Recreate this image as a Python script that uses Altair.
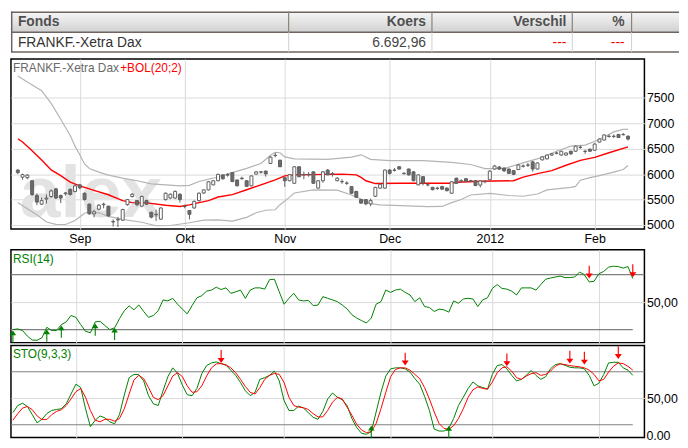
import altair as alt
import pandas as pd

# ---------------- data ----------------
month_idx = [13, 35, 56, 78, 99, 121]
month_lbl = ["Sep", "Okt", "Nov", "Dec", "2012", "Feb"]
price_ticks = [5000, 5500, 6000, 6500, 7000, 7500]

opens = [6080, 5940, 5930, 5870, 5580, 5410, 5510, 5560, 5710, 5580,
         5615, 5700, 5660, 5790, 5625, 5410, 5220, 5310, 5400, 5370,
         5060, 5100, 5095, 5400, 5560, 5480, 5370, 5480, 5250, 5200,
         5115, 5500, 5530, 5530, 5605, 5365, 5285, 5335, 5480, 5630,
         5690, 5790, 5870, 5985, 5980, 6030, 5885, 5910, 5870, 5770,
         6000, 6040, 6060, 6210, 6365, 6275, 5930, 5870, 5820, 6145,
         5985, 5985, 6045, 5725, 5870, 6080, 6000, 5870, 5850, 5820,
         5755, 5660, 5500, 5500, 5415, 5565, 5725, 5725, 6080, 6075,
         6145, 6010, 6100, 6045, 5790, 5950, 5790, 5740, 5720, 5755,
         5725, 5625, 5920, 5865, 5910, 5865, 5870, 5785, 5850, 5890,
         6100, 6140, 6120, 6100, 6070, 6090, 6155, 6175, 6240, 6100,
         6280, 6300, 6375, 6410, 6375, 6375, 6450, 6450, 6525, 6445,
         6490, 6470, 6630, 6670, 6740, 6740, 6780, 6775, 6745]
highs = [6095, 6010, 6000, 5880, 5620, 5540, 5600, 5700, 5730, 5600,
         5650, 5720, 5800, 5810, 5640, 5420, 5300, 5410, 5440, 5380,
         5110, 5160, 5320, 5510, 5630, 5490, 5580, 5500, 5260, 5300,
         5345, 5640, 5620, 5680, 5620, 5400, 5290, 5480, 5640, 5700,
         5860, 5880, 6010, 5990, 6020, 6040, 5890, 5950, 5880, 5975,
         6060, 6060, 6070, 6350, 6420, 6280, 5940, 6000, 6150, 6150,
         6050, 6040, 6050, 5880, 6060, 6100, 6040, 5940, 5900, 5860,
         5760, 5670, 5510, 5510, 5520, 5750, 5810, 6090, 6100, 6120,
         6160, 6040, 6110, 6060, 5995, 5960, 5830, 5750, 5750, 5770,
         5740, 5860, 5930, 5900, 5920, 5890, 5880, 5880, 5880, 6075,
         6180, 6160, 6130, 6110, 6080, 6190, 6190, 6220, 6260, 6230,
         6350, 6385, 6410, 6440, 6460, 6430, 6460, 6560, 6560, 6480,
         6500, 6610, 6700, 6780, 6780, 6780, 6790, 6810, 6760]
lows = [6000, 5890, 5900, 5570, 5390, 5390, 5420, 5530, 5510, 5430,
        5580, 5580, 5640, 5700, 5480, 5200, 5150, 5290, 5330, 5160,
        4970, 4960, 5080, 5380, 5540, 5370, 5350, 5390, 5130, 5080,
        5100, 5480, 5510, 5510, 5440, 5330, 5110, 5320, 5460, 5610,
        5680, 5780, 5860, 5890, 5950, 5840, 5760, 5890, 5750, 5760,
        5990, 6010, 5950, 6200, 6330, 6140, 5750, 5860, 5810, 5940,
        5900, 5950, 5810, 5715, 5830, 5980, 5950, 5860, 5810, 5790,
        5610, 5530, 5420, 5390, 5370, 5550, 5710, 5710, 5990, 6050,
        6090, 5990, 5970, 5860, 5780, 5780, 5760, 5680, 5690, 5690,
        5660, 5610, 5810, 5830, 5850, 5840, 5770, 5740, 5820, 5880,
        6090, 6080, 6040, 6000, 5980, 6080, 6130, 6140, 6050, 6090,
        6270, 6290, 6360, 6390, 6360, 6365, 6380, 6440, 6500, 6400,
        6440, 6460, 6620, 6660, 6720, 6710, 6710, 6760, 6660]
closes = [6030, 5990, 5980, 5600, 5450, 5480, 5530, 5670, 5530, 5530,
          5630, 5600, 5770, 5730, 5500, 5220, 5260, 5390, 5410, 5180,
          5070, 5110, 5305, 5500, 5605, 5400, 5560, 5410, 5155, 5210,
          5335, 5625, 5605, 5660, 5500, 5370, 5210, 5465, 5625, 5690,
          5850, 5870, 5995, 5910, 5990, 5855, 5770, 5920, 5760, 5965,
          6045, 6045, 6005, 6335, 6370, 6145, 5870, 5990, 6145, 5950,
          5990, 5995, 5820, 5870, 6045, 5985, 6010, 5920, 5855, 5825,
          5625, 5545, 5430, 5415, 5480, 5740, 5800, 6080, 6015, 6080,
          6100, 6015, 5985, 5870, 5985, 5820, 5790, 5695, 5725, 5705,
          5675, 5850, 5820, 5870, 5860, 5870, 5775, 5865, 5860, 6060,
          6160, 6100, 6065, 6015, 5995, 6180, 6160, 6180, 6100, 6220,
          6340, 6375, 6400, 6415, 6450, 6415, 6400, 6550, 6530, 6450,
          6450, 6590, 6690, 6770, 6745, 6745, 6720, 6780, 6690]

bol_up_i = [0, 2, 5, 7, 9, 11, 12, 13, 14, 15, 17, 19, 22, 25, 28, 31, 34, 36, 38, 41,
            45, 48, 51, 53, 54, 55, 56, 58, 65, 70, 72, 74, 78, 85, 91, 95, 98, 102, 106, 110,
            113, 116, 119, 122, 125, 127, 128]
bol_up_v = [7930, 7810, 7640, 7390, 7080, 6760, 6550, 6380, 6200, 6110, 6040, 5980, 5920, 5870, 5810, 5790, 5770, 5780, 5855, 5920,
            6030, 6113, 6210, 6372, 6430, 6420, 6340, 6300, 6290, 6335, 6380, 6290, 6265, 6265, 6230, 6190, 6110, 6110, 6220, 6330,
            6450, 6550, 6570, 6680, 6830, 6880, 6880]
bol_mid_i = [0, 1, 3, 5, 7, 9, 11, 13, 16, 19, 22, 24, 27, 31, 34, 36, 38, 40, 42, 45,
             48, 51, 54, 56, 58, 68, 71, 72, 73, 75, 80, 91, 92, 97, 104, 106, 109, 112, 115, 118,
             121, 124, 128]
bol_mid_v = [6696, 6631, 6460, 6276, 6082, 5970, 5845, 5770, 5680, 5595, 5480, 5440, 5434, 5388, 5365, 5395, 5440, 5480, 5550, 5596,
             5693, 5790, 5887, 5965, 5985, 6000, 5985, 5935, 5870, 5815, 5820, 5820, 5840, 5860, 5870, 5940, 6010, 6070, 6175, 6270,
             6330, 6420, 6535]
bol_lo_i = [0, 2, 4, 6, 8, 10, 12, 14, 15, 17, 19, 22, 26, 29, 32, 36, 39, 42, 45, 48,
            50, 52, 54, 55, 56, 58, 62, 67, 70, 72, 74, 76, 86, 89, 91, 93, 95, 99, 103, 106,
            109, 111, 116, 117, 118, 120, 122, 125, 127, 128]
bol_lo_v = [5440, 5320, 5200, 5060, 5014, 5010, 5090, 5230, 5260, 5240, 5170, 5110, 5055, 4985, 4990, 5045, 5097, 5100, 5075, 5150,
            5240, 5290, 5300, 5400, 5470, 5630, 5690, 5685, 5590, 5510, 5420, 5395, 5360, 5365, 5440, 5500, 5590, 5620, 5580, 5565,
            5610, 5690, 5740, 5760, 5880, 5930, 5970, 6040, 6090, 6170]

rsi = [30.0, 30.5, 29.3, 25.2, 22.4, 22.2, 24.1, 31.7, 29.3, 29.3,
       33.6, 35.6, 40.3, 38.9, 33.6, 28.8, 27.7, 35.6, 36.0, 32.9,
       30.0, 31.3, 37.9, 43.7, 47.3, 44.4, 48.0, 43.2, 38.9, 40.3,
       43.7, 51.6, 50.9, 52.8, 48.5, 44.9, 41.5, 47.5, 53.2, 54.7,
       58.0, 58.8, 60.9, 59.2, 60.4, 56.4, 57.5, 58.8, 52.8, 58.8,
       60.4, 60.4, 59.5, 66.4, 66.7, 57.5, 48.5, 52.8, 56.4, 51.6,
       50.9, 51.3, 47.5, 47.9, 54.0, 52.8, 51.6, 50.4, 47.9, 45.1,
       40.8, 38.4, 36.5, 34.8, 38.4, 48.5, 50.4, 58.8, 57.1, 58.8,
       59.5, 57.1, 55.2, 50.4, 53.2, 46.8, 46.1, 43.2, 44.9, 44.4,
       42.7, 50.9, 49.2, 52.3, 52.8, 52.3, 46.8, 51.6, 53.2, 60.0,
       62.8, 60.0, 59.5, 58.0, 55.2, 60.4, 60.4, 60.4, 58.8, 62.8,
       66.7, 67.6, 68.3, 69.0, 67.9, 67.9, 68.3, 71.9, 70.0, 64.7,
       65.2, 70.7, 72.4, 75.5, 76.2, 75.9, 74.8, 75.9, 67.2]

sto_k = [33.7, 41.8, 44.4, 40.7, 31.4, 22.2, 26.2, 32.6, 36.2, 37.3,
         38.1, 43.7, 54.8, 65.9, 62.2, 38.1, 17.8, 25.1, 30.0, 27.8,
         23.3, 21.1, 31.4, 53.7, 73.3, 77.0, 76.7, 69.6, 52.9, 43.7,
         41.8, 58.4, 74.4, 84.4, 78.1, 64.8, 54.0, 52.9, 61.1, 77.8,
         87.0, 90.0, 91.1, 89.2, 87.3, 81.8, 75.9, 67.8, 58.4, 52.9,
         56.7, 71.4, 73.3, 75.9, 80.7, 69.6, 47.3, 36.2, 36.2, 41.1,
         38.9, 33.7, 28.4, 26.2, 35.1, 49.2, 55.9, 51.1, 48.4, 41.8,
         27.0, 16.7, 10.3, 9.2, 12.2, 34.4, 56.7, 75.1, 83.3, 84.4,
         84.4, 83.3, 79.6, 72.2, 65.9, 52.2, 36.2, 15.1, 12.9, 12.9,
         15.9, 27.0, 41.8, 51.1, 61.1, 68.4, 64.0, 62.2, 60.3, 77.0,
         87.0, 88.1, 83.3, 75.9, 69.6, 71.4, 75.9, 81.4, 75.9, 71.4,
         74.4, 83.3, 88.1, 89.2, 87.3, 85.1, 84.4, 84.4, 83.3, 75.9,
         64.0, 67.0, 77.0, 90.0, 90.7, 90.7, 84.4, 81.8, 75.9]
sto_d = [25.1, 32.6, 38.9, 40.7, 37.0, 30.0, 25.9, 25.9, 31.4, 35.1,
         37.0, 41.8, 49.2, 57.4, 61.1, 51.1, 36.2, 25.1, 23.3, 26.2,
         26.2, 24.0, 27.0, 38.1, 54.8, 70.7, 75.9, 72.2, 62.2, 51.1,
         48.4, 52.9, 64.0, 75.1, 78.9, 74.4, 64.0, 56.7, 57.4, 64.0,
         75.1, 84.4, 88.9, 89.2, 87.8, 84.4, 78.9, 71.4, 63.3, 56.7,
         54.8, 62.2, 71.4, 75.9, 78.1, 77.0, 67.8, 51.1, 41.8, 40.0,
         39.3, 37.3, 32.6, 28.9, 28.9, 36.2, 45.6, 51.1, 49.2, 40.0,
         30.7, 20.4, 14.0, 11.1, 12.2, 21.4, 38.1, 56.7, 74.4, 82.6,
         84.4, 84.4, 81.8, 77.0, 72.2, 62.2, 49.2, 34.4, 21.4, 15.9,
         14.8, 18.9, 27.0, 38.1, 51.1, 59.6, 62.9, 61.1, 60.3, 68.4,
         78.9, 84.4, 85.6, 80.7, 73.3, 71.4, 75.1, 77.8, 78.9, 75.9,
         77.0, 80.7, 86.2, 88.9, 88.1, 87.0, 86.2, 85.6, 84.4, 81.8,
         77.0, 69.6, 71.4, 79.6, 86.2, 90.0, 89.2, 86.2, 81.8]

rsi_up_i = [0, 7, 10, 17, 21]
rsi_up_v = [29.3, 30.0, 32.9, 34.4, 31.3]
rsi_dn_i = [119, 128]
rsi_dn_v = [67.2, 68.2]
sto_up_i = [74, 90]
sto_up_v = [18.9, 18.5]
sto_dn_i = [43, 81, 102, 115, 118, 125]
sto_dn_v = [90.0, 87.0, 86.2, 89.2, 88.1, 94.4]

table_head = ["Fonds", "Koers", "Verschil", "%"]
table_row = ["FRANKF.-Xetra Dax", "6.692,96", "---", "---"]

# ---------------- layout / style ----------------
W = 641
XDOM = [-0.4, 130.4]
FONT = "Liberation Sans"
NARROW = "Liberation Sans Narrow, Arial Narrow, Liberation Sans"
GRID = "#dadada"
GREEN = "#008000"
RED = "#ff0000"
FRAME = alt.ViewBackground(stroke="#000000", strokeWidth=1.5)

n = len(closes)
idx = list(range(n))
candles = pd.DataFrame({"i": idx, "o": opens, "h": highs, "l": lows, "c": closes})

label_expr = "".join(f"datum.value == {v} ? '{l}' : " for v, l in zip(month_idx, month_lbl)) + "''"


def xenc(field, show_labels):
    return alt.X(field, type="quantitative",
                 scale=alt.Scale(domain=XDOM, nice=False, zero=False),
                 axis=alt.Axis(values=month_idx, labelExpr=label_expr, labels=show_labels,
                               grid=True, gridColor=GRID, gridWidth=1, ticks=False, domain=False,
                               labelPadding=4, labelFontSize=12.5, labelFont=FONT,
                               labelColor="#000", title=None))


def yenc(field, dom, values, lexpr=None, fmt=None):
    ax = dict(values=values, grid=True, gridColor=GRID, gridWidth=1, ticks=False, domain=False,
              orient="right", labelPadding=2, labelFontSize=12.5, labelFont=FONT,
              labelColor="#000", title=None)
    if lexpr is not None:
        ax["labelExpr"] = lexpr
    if fmt is not None:
        ax["format"] = fmt
    return alt.Y(field, type="quantitative",
                 scale=alt.Scale(domain=dom, nice=False, zero=False),
                 axis=alt.Axis(**ax))


def text_at(txt, x, y, color, size=12, weight="normal", align="left", font=FONT, baseline="alphabetic"):
    return alt.Chart(pd.DataFrame({"t": [txt]})).mark_text(
        align=align, baseline=baseline, fontSize=size, font=font,
        fontWeight=weight, color=color
    ).encode(x=alt.value(x), y=alt.value(y), text="t:N")


ARROW_DN = "M-0.09,-2L0.09,-2L0.09,-0.77L0.54,-0.77L0,0L-0.54,-0.77L-0.09,-0.77Z"
ARROW_UP = "M-0.09,2L0.09,2L0.09,0.77L0.54,0.77L0,0L-0.54,0.77L-0.09,0.77Z"

# ---------------- main price panel ----------------
MAIN_DOM = [4922, 8263]


def my(field):
    return yenc(field, MAIN_DOM, price_ticks, fmt="d")


watermark = text_at("alex", 9, 176, "#e3e3e3", size=74, weight="bold", font=NARROW,
                    baseline="bottom")

band_layers = []
for bi, bv, col, sw in [(bol_up_i, bol_up_v, "#b4b4b4", 1.2),
                        (bol_lo_i, bol_lo_v, "#b4b4b4", 1.2),
                        (bol_mid_i, bol_mid_v, RED, 1.4)]:
    band_layers.append(
        alt.Chart(pd.DataFrame({"i": bi, "v": bv})).mark_line(color=col, strokeWidth=sw)
        .encode(x=xenc("i", True), y=my("v"))
    )

wicks = alt.Chart(candles).mark_rule(color="#606060", strokeWidth=1).encode(
    x=xenc("i", True), y=my("l"), y2="h")
bodies = alt.Chart(candles).mark_bar(size=3, stroke="#606060", strokeWidth=1).encode(
    x=xenc("i", True), y=my("o"), y2="c",
    fill=alt.condition("datum.c >= datum.o", alt.value("#ffffff"), alt.value("#6b6b6b")))

main = alt.layer(
    watermark, *band_layers, wicks, bodies,
    text_at("FRANKF.-Xetra Dax", 2, 13, "#6a6a6a"),
    text_at("+BOL(20;2)", 110.5, 13, RED),
).properties(width=W, height=172, view=FRAME)

# ---------------- RSI panel ----------------
RSI_DOM = [20.5, 88.2]


def ry(field):
    return yenc(field, RSI_DOM, [50], lexpr="'50,00'")


rsi_df = pd.DataFrame({"i": idx, "v": rsi})
levels_rsi = pd.DataFrame({"v": [70, 30], "x1": [XDOM[0], XDOM[0]], "x2": [XDOM[1], n - 1]})
rsi_chart = alt.layer(
    alt.Chart(levels_rsi).mark_rule(color="#808080", strokeWidth=1.2).encode(
        x=xenc("x1", False), x2="x2", y=ry("v")),
    alt.Chart(rsi_df).mark_line(color=GREEN, strokeWidth=1).encode(x=xenc("i", False), y=ry("v")),
    alt.Chart(pd.DataFrame({"i": rsi_up_i, "v": rsi_up_v})).mark_point(
        shape=ARROW_UP, filled=True, size=150, opacity=1, color=GREEN).encode(
        x=xenc("i", False), y=ry("v")),
    alt.Chart(pd.DataFrame({"i": rsi_dn_i, "v": rsi_dn_v})).mark_point(
        shape=ARROW_DN, filled=True, size=169, opacity=1, color=RED).encode(
        x=xenc("i", False), y=ry("v")),
    text_at("RSI(14)", 2, 13.5, GREEN),
).properties(width=W, height=94, view=FRAME)

# ---------------- STO panel ----------------
STO_DOM = [5.6, 109.6]


def sy(field):
    return yenc(field, STO_DOM, [50], lexpr="'50,00'")


sto_df = pd.DataFrame({"i": idx, "k": sto_k, "d": sto_d})
levels_sto = pd.DataFrame({"v": [80, 20], "x1": [XDOM[0], XDOM[0]], "x2": [XDOM[1], n - 1]})
sto_chart = alt.layer(
    alt.Chart(levels_sto).mark_rule(color="#808080", strokeWidth=1.2).encode(
        x=xenc("x1", False), x2="x2", y=sy("v")),
    alt.Chart(sto_df).mark_line(color=GREEN, strokeWidth=1).encode(x=xenc("i", False), y=sy("k")),
    alt.Chart(sto_df).mark_line(color=RED, strokeWidth=1).encode(x=xenc("i", False), y=sy("d")),
    alt.Chart(pd.DataFrame({"i": sto_up_i, "v": sto_up_v})).mark_point(
        shape=ARROW_UP, filled=True, size=150, opacity=1, color=GREEN).encode(
        x=xenc("i", False), y=sy("v")),
    alt.Chart(pd.DataFrame({"i": sto_dn_i, "v": sto_dn_v})).mark_point(
        shape=ARROW_DN, filled=True, size=169, opacity=1, color=RED).encode(
        x=xenc("i", False), y=sy("v")),
    alt.Chart(pd.DataFrame({"v": [7.8], "t": ["0.00"]})).mark_text(
        align="left", baseline="middle", fontSize=12.5, font=FONT, color="#000").encode(
        x=alt.value(W + 2), y=sy("v"), text="t:N"),
    text_at("STO(9,3,3)", 2, 12.5, GREEN),
).properties(width=W, height=93, view=FRAME)

# ---------------- table ----------------
TW = 676
TH1, TH2 = 21, 41
col_edges = [281, 426, 568, 628]
DARK = "#6e6560"
hdr_grad = alt.Gradient(gradient="linear",
                        stops=[alt.GradientStop(color="#f6f6f6", offset=0),
                               alt.GradientStop(color="#e4e4e4", offset=0.5),
                               alt.GradientStop(color="#d0d0d0", offset=1)],
                        x1=0, x2=0, y1=0, y2=1)
one = pd.DataFrame({"a": [0]})
tbl_layers = [
    alt.Chart(one).mark_rect(fill=hdr_grad).encode(
        x=alt.value(0), x2=alt.value(TW), y=alt.value(0), y2=alt.value(TH1)),
]
for yy in [0.75, TH1, TH2]:
    tbl_layers.append(alt.Chart(one).mark_rule(color=DARK, strokeWidth=1.5).encode(
        x=alt.value(0), x2=alt.value(TW), y=alt.value(yy)))
tbl_layers.append(alt.Chart(one).mark_rule(color=DARK, strokeWidth=1.5).encode(
    x=alt.value(0.75), y=alt.value(0), y2=alt.value(TH2)))
for ce in col_edges:
    tbl_layers.append(alt.Chart(one).mark_rule(color="#8a807a", strokeWidth=1.2).encode(
        x=alt.value(ce), y=alt.value(0), y2=alt.value(TH1)))
    tbl_layers.append(alt.Chart(one).mark_rule(color="#cfcfcf", strokeWidth=1).encode(
        x=alt.value(ce), y=alt.value(TH1), y2=alt.value(TH2)))
hx = [7, 420, 562, 621]
halign = ["left", "right", "right", "right"]
rcolor = ["#333333", "#444444", RED, RED]
for k in range(4):
    tbl_layers.append(text_at(table_head[k], hx[k], 15, "#505050", size=14, weight="bold",
                              align=halign[k], font=NARROW))
    tbl_layers.append(text_at(table_row[k], hx[k], 36, rcolor[k], size=14,
                              align=halign[k], font=NARROW))
table = alt.layer(*tbl_layers).properties(width=TW, height=TH2)


def spacer(h):
    return alt.Chart(one).mark_rule(opacity=0).encode(
        x=alt.value(0), y=alt.value(0)).properties(width=W, height=h)


chart = alt.vconcat(
    table, spacer(7), main, spacer(21), rsi_chart, spacer(3), sto_chart,
    spacing=0, bounds="flush"
).resolve_scale(x="independent", y="independent").properties(
    padding=0
).configure_view(strokeWidth=0).configure_axis(labelFont=FONT)

chart.save("out.html", embed_options={"renderer": "svg", "actions": False})
